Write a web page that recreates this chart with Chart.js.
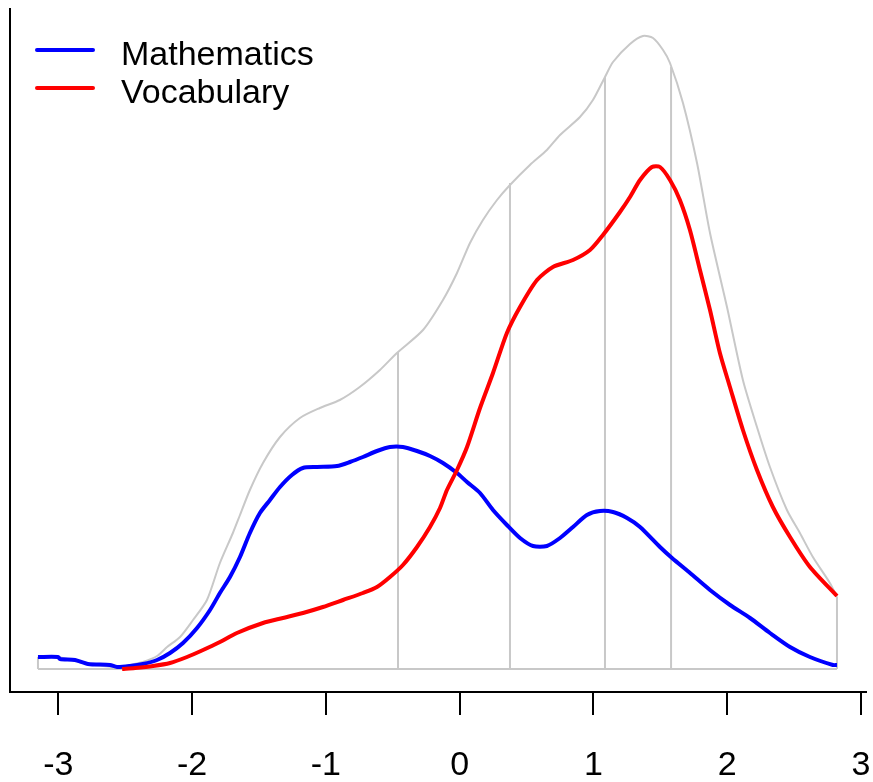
<!DOCTYPE html>
<html>
<head>
<meta charset="utf-8">
<script src="https://cdn.jsdelivr.net/npm/chart.js@4/dist/chart.umd.min.js"></script>
<style>
  html, body { margin: 0; padding: 0; background: #ffffff; }
  #wrap { width: 873px; height: 782px; }
</style>
</head>
<body>
<div id="wrap"><canvas id="chart" width="873" height="782"></canvas></div>
<script>
// Ability score (x) against estimated density (y) for each test.
const X_TICKS = [-3, -2, -1, 0, 1, 2, 3];

const MATH_X = [-3.152, -3.002, -2.987, -2.875, -2.778, -2.614, -2.561, -2.464, -2.367, -2.262,
  -2.165, -2.068, -1.963, -1.866, -1.792, -1.717, -1.642, -1.568, -1.493, -1.418,
  -1.343, -1.254, -1.172, -1.067, -0.917, -0.820, -0.723, -0.618, -0.521, -0.424,
  -0.319, -0.222, -0.125, -0.020, 0.055, 0.152, 0.249, 0.353, 0.451, 0.548,
  0.652, 0.750, 0.847, 0.951, 1.049, 1.146, 1.251, 1.348, 1.497, 1.587,
  1.722, 1.871, 2.021, 2.170, 2.319, 2.469, 2.618, 2.790, 2.820];
const MATH_Y = [0.012, 0.012, 0.010, 0.009, 0.005, 0.004, 0.002, 0.003, 0.005, 0.009,
  0.016, 0.026, 0.041, 0.059, 0.076, 0.092, 0.112, 0.136, 0.156, 0.169,
  0.182, 0.194, 0.201, 0.202, 0.203, 0.207, 0.212, 0.218, 0.222, 0.222,
  0.218, 0.213, 0.206, 0.196, 0.187, 0.176, 0.159, 0.144, 0.131, 0.123,
  0.123, 0.131, 0.142, 0.154, 0.158, 0.157, 0.151, 0.142, 0.122, 0.111,
  0.096, 0.079, 0.064, 0.051, 0.036, 0.022, 0.012, 0.004, 0.004];

const VOCAB_X = [-2.523, -2.427, -2.292, -2.165, -2.038, -1.918, -1.792, -1.665, -1.470, -1.321,
  -1.171, -1.022, -0.872, -0.723, -0.618, -0.521, -0.424, -0.319, -0.222, -0.147,
  -0.095, -0.020, 0.055, 0.152, 0.249, 0.353, 0.451, 0.578, 0.697, 0.847,
  0.974, 1.071, 1.198, 1.273, 1.348, 1.437, 1.497, 1.572, 1.646, 1.721,
  1.796, 1.871, 1.945, 2.020, 2.117, 2.222, 2.341, 2.469, 2.618, 2.820];
const VOCAB_Y = [0.000, 0.001, 0.003, 0.006, 0.012, 0.019, 0.027, 0.036, 0.046, 0.051,
  0.056, 0.062, 0.069, 0.076, 0.082, 0.092, 0.104, 0.122, 0.142, 0.161,
  0.179, 0.199, 0.222, 0.261, 0.296, 0.336, 0.362, 0.389, 0.402, 0.409,
  0.419, 0.434, 0.457, 0.472, 0.489, 0.502, 0.502, 0.489, 0.469, 0.439,
  0.399, 0.359, 0.316, 0.282, 0.239, 0.199, 0.162, 0.132, 0.102, 0.073];

// Combined density of both tests.
const TOTAL_X = [-3.152, -3.002, -2.778, -2.561, -2.464, -2.367, -2.262, -2.187, -2.090, -1.993,
  -1.889, -1.792, -1.695, -1.642, -1.568, -1.470, -1.343, -1.194, -1.045, -0.896,
  -0.747, -0.596, -0.469, -0.274, -0.125, -0.020, 0.077, 0.174, 0.279, 0.376,
  0.525, 0.652, 0.750, 0.899, 0.996, 1.086, 1.146, 1.273, 1.370, 1.445,
  1.520, 1.572, 1.669, 1.774, 1.871, 1.998, 2.117, 2.222, 2.319, 2.446,
  2.543, 2.640, 2.767, 2.820];
const TOTAL_Y = [0.012, 0.012, 0.005, 0.002, 0.004, 0.007, 0.013, 0.022, 0.032, 0.049,
  0.069, 0.106, 0.136, 0.154, 0.179, 0.206, 0.232, 0.251, 0.261, 0.269,
  0.282, 0.299, 0.316, 0.339, 0.369, 0.396, 0.426, 0.449, 0.469, 0.484,
  0.504, 0.519, 0.534, 0.552, 0.569, 0.592, 0.607, 0.625, 0.633, 0.631,
  0.619, 0.606, 0.566, 0.506, 0.436, 0.362, 0.289, 0.242, 0.202, 0.159,
  0.136, 0.112, 0.086, 0.072];

// Reference lines under the combined curve.
const MARK_X = [-3.152, -0.461, 0.376, 1.086, 1.580, 2.820];
const MARK_TOP = [0.012, 0.317, 0.486, 0.592, 0.602, 0.072];

const LEGEND_ITEMS = [
  { label: 'Mathematics', color: '#0000ff' },
  { label: 'Vocabulary', color: '#ff0000' }
];

const FONT = "'Liberation Sans', Arial, Helvetica, sans-serif";
const GREY = '#c8c8c8';

const zip = (xs, ys) => xs.map((x, i) => ({ x: x, y: ys[i] }));

const datasets = [
  { label: 'Vocabulary', data: zip(VOCAB_X, VOCAB_Y), borderColor: '#ff0000', borderWidth: 4,
    pointRadius: 0, tension: 0.25, fill: false },
  { label: 'Mathematics', data: zip(MATH_X, MATH_Y), borderColor: '#0000ff', borderWidth: 4,
    pointRadius: 0, tension: 0.25, fill: false },
  { label: 'Total', data: zip(TOTAL_X, TOTAL_Y), borderColor: GREY, borderWidth: 2,
    pointRadius: 0, tension: 0.25, fill: false }
];
MARK_X.forEach((x, i) => {
  datasets.push({ label: 'mark' + i, data: [{ x: x, y: 0 }, { x: x, y: MARK_TOP[i] }],
    borderColor: GREY, borderWidth: 2, pointRadius: 0, fill: false });
});
datasets.push({ label: 'baseline', data: [{ x: MARK_X[0], y: 0 }, { x: MARK_X[MARK_X.length - 1], y: 0 }],
  borderColor: GREY, borderWidth: 2, pointRadius: 0, fill: false });

// Legend drawn in the upper-left corner of the plot.
const cornerLegend = {
  id: 'cornerLegend',
  afterDraw(chart) {
    const ctx = chart.ctx;
    ctx.save();
    ctx.font = '34px ' + FONT;
    ctx.textBaseline = 'alphabetic';
    ctx.lineCap = 'round';
    LEGEND_ITEMS.forEach((item, i) => {
      const y = 50 + i * 38;
      ctx.strokeStyle = item.color;
      ctx.lineWidth = 4;
      ctx.beginPath();
      ctx.moveTo(37, y);
      ctx.lineTo(93, y);
      ctx.stroke();
      ctx.fillStyle = '#000000';
      ctx.fillText(item.label, 121, y + 15);
    });
    ctx.restore();
  }
};

new Chart(document.getElementById('chart'), {
  type: 'line',
  data: { datasets: datasets },
  options: {
    responsive: false,
    animation: false,
    layout: { padding: { left: 10, right: 7, top: 9, bottom: 0 } },
    plugins: { legend: { display: false }, tooltip: { enabled: false } },
    scales: {
      x: {
        type: 'linear', min: -3.361, max: 3.037,
        afterBuildTicks: (scale) => { scale.ticks = X_TICKS.map(v => ({ value: v })); },
        afterFit: (scale) => { scale.height = 90; scale.paddingLeft = 0; scale.paddingRight = 0; },
        grid: { display: true, drawOnChartArea: false, drawTicks: true, tickLength: 23,
          color: '#000000', lineWidth: 2 },
        border: { display: true, color: '#000000', width: 2 },
        ticks: { color: '#000000', font: { family: FONT, size: 34 }, padding: 30,
          maxRotation: 0, callback: (v) => String(v) }
      },
      y: {
        type: 'linear', min: -0.023, max: 0.660,
        ticks: { display: false },
        grid: { display: false, drawTicks: false },
        border: { display: true, color: '#000000', width: 2 }
      }
    }
  },
  plugins: [cornerLegend]
});
</script>
</body>
</html>
